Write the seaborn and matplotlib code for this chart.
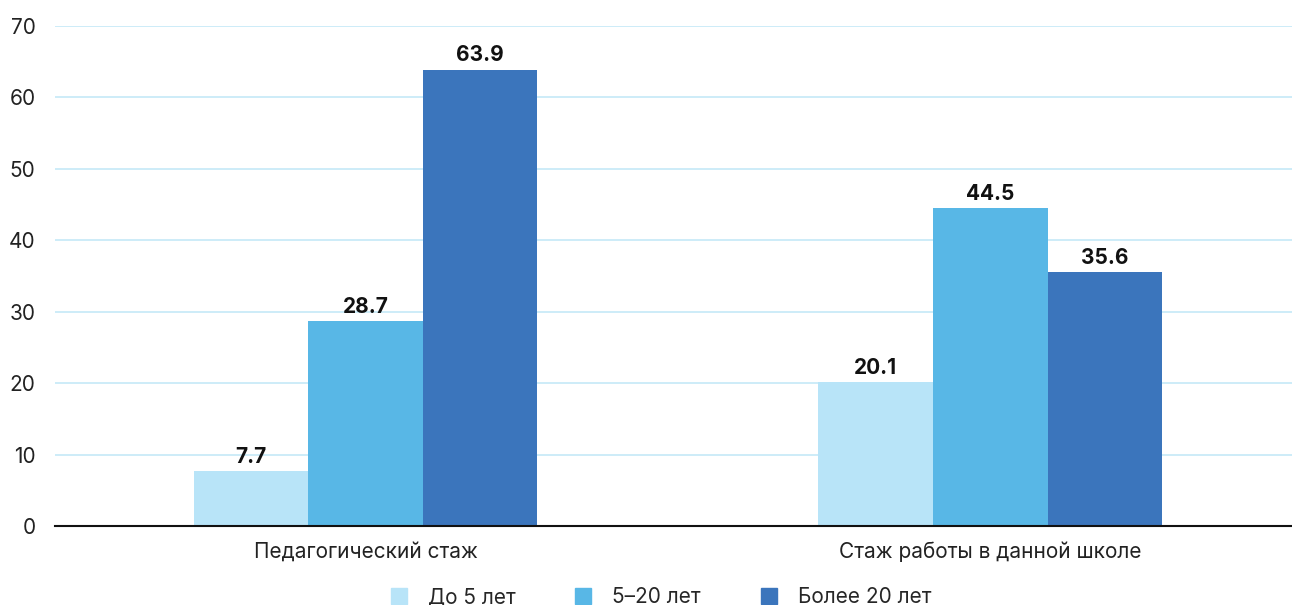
import matplotlib
matplotlib.use('Agg')
import matplotlib.pyplot as plt
import seaborn as sns
import pandas as pd
from matplotlib.lines import Line2D

categories = ['Педагогический стаж', 'Стаж работы в данной школе']
groups = ['До 5 лет', '5–20 лет', 'Более 20 лет']
up_to_5 = [7.7, 20.1]
from_5_to_20 = [28.7, 44.5]
over_20 = [63.9, 35.6]
colors = ['#B8E4F8', '#58B7E6', '#3B75BC']

df = pd.DataFrame({
    'category': categories * 3,
    'group': [groups[0]] * 2 + [groups[1]] * 2 + [groups[2]] * 2,
    'value': up_to_5 + from_5_to_20 + over_20,
})

sns.set_style('white')
plt.rcParams['font.family'] = ['Inter', 'DejaVu Sans']

fig = plt.figure(figsize=(12.92, 6.05), dpi=100)
ax = fig.add_axes([0.0426, 0.1306, 0.9574, 0.8264])

sns.barplot(data=df, x='category', y='value', hue='group', palette=colors,
            width=0.55, saturation=1, legend=False, linewidth=0,
            ax=ax, zorder=3)

for container in ax.containers:
    ax.bar_label(container, fmt='%.1f', padding=3, fontsize=15,
                 fontweight='bold', color='#111111')

ax.set_ylim(0, 70)
ax.set_xlim(-0.497, 1.483)
ax.set_yticks(range(0, 71, 10))
ax.yaxis.grid(True, color='#C5E9F7', linewidth=1.2, zorder=0)
ax.set_axisbelow(True)
ax.set_xlabel('')
ax.set_ylabel('')
for side in ['top', 'right', 'left']:
    ax.spines[side].set_visible(False)
ax.spines['bottom'].set_color('#111111')
ax.spines['bottom'].set_linewidth(1.5)
ax.spines['bottom'].set_zorder(4)
ax.tick_params(axis='both', length=0, labelsize=15, colors='#222222')
ax.tick_params(axis='x', pad=11)
ax.tick_params(axis='y', pad=14)

handles = [Line2D([0], [0], marker='s', linestyle='', markersize=11,
                  markerfacecolor=c, markeredgecolor=c) for c in colors]
fig.legend(handles, groups, loc='lower center', bbox_to_anchor=(0.509, -0.035),
           ncol=3, frameon=False, fontsize=15, handlelength=1.4,
           handletextpad=0.7, columnspacing=2.55)

plt.savefig('out.png', dpi=100)
plt.close()
